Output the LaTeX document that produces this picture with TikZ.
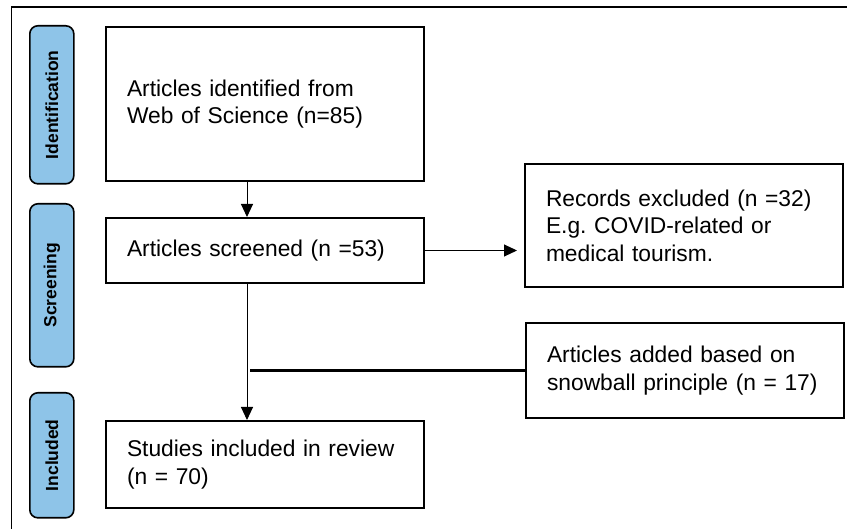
\documentclass[tikz,border=0pt]{standalone}
\usepackage{fontspec}
\setmainfont{Liberation Sans}
\frenchspacing
\usetikzlibrary{arrows.meta}
\definecolor{barblue}{HTML}{8EC4E8}
\tikzset{
  box/.style={draw=black, line width=2pt, anchor=north west, inner xsep=21pt, inner ysep=0pt,
    align=left, font=\fontsize{22.8}{27.5}\selectfont},
  bar/.style={draw=black, line width=1.6pt, fill=barblue, rounded corners=8pt, anchor=north west,
    minimum width=44pt, inner sep=0pt},
  barlabel/.style={rotate=90, font=\bfseries\fontsize{17.5}{20}\selectfont},
  arr/.style={line width=1pt, -{Triangle[length=13pt,width=12pt]}},
}
\begin{document}
\begin{tikzpicture}[x=1pt,y=-1pt]
\useasboundingbox (0,0) rectangle (847,529);
% frame
\draw[line width=2pt] (11,7) -- (847,7);
\draw[line width=1pt] (11,7) -- (11,529);
% side bars
\node[bar, minimum height=158pt] (b1) at (29,25) {};
\node[bar, minimum height=163pt] (b2) at (29,203) {};
\node[bar, minimum height=125pt] (b3) at (29,392) {};
\node[barlabel] (l1) at (b1.center) {Identification};
\node[barlabel] (l2) at (b2.center) {Screening};
\node[barlabel] (l3) at (b3.center) {Included};
% boxes
\node[box, minimum width=318pt, minimum height=154pt, text width=276pt] (n1) at (105,26)
  {Articles identified from\\Web of Science (n=85)};
\node[box, minimum width=318pt, minimum height=65pt, text width=276pt] (n2) at (105,217)
  {Articles screened (n =53)};
\node[box, minimum width=318pt, minimum height=123pt, text width=276pt] (n3) at (524,163)
  {Records excluded (n =32)\\E.g.\ COVID-related or\\medical tourism.};
\node[box, minimum width=318pt, minimum height=95pt, text width=276pt] (n4) at (525,322)
  {Articles added based on\\snowball principle (n = 17)};
\node[box, minimum width=318pt, minimum height=87pt, text width=276pt] (n5) at (105,420)
  {Studies included in review\\(n = 70)\\[2pt]};
% connectors
\coordinate (col) at (247,0);
\coordinate (jx) at (250,0);
\draw[arr] (n1.south -| col) -- (n2.north -| col);
\draw[arr, shorten >=7pt] (n2.east) -- (n3.west |- n2.east);
\draw[arr] (n2.south -| col) -- (n5.north -| col);
\draw[line width=3pt] (n4.west) -- (n4.west -| jx);
\end{tikzpicture}
\end{document}
